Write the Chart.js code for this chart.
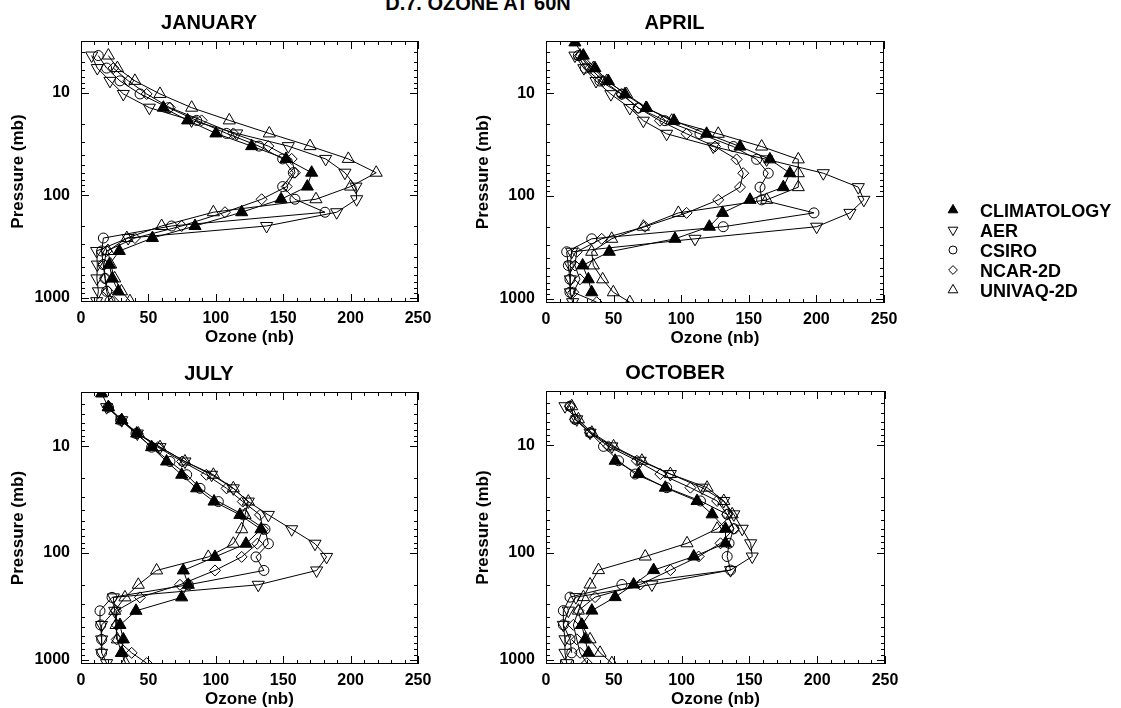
<!DOCTYPE html>
<html>
<head>
<meta charset="utf-8">
<script src="https://cdn.jsdelivr.net/npm/chart.js@4.4.1/dist/chart.umd.min.js"></script>
<style>
  html, body { margin: 0; padding: 0; background: #fff; }
  #page { position: relative; width: 1121px; height: 708px; overflow: hidden; background: #fff; }
  #page canvas { position: absolute; }
  #heading { position: absolute; left: 0; top: -7px; width: 956px; text-align: center;
             font: bold 20px/20px 'Liberation Sans', Arial, sans-serif; color: #000; }
</style>
</head>
<body>
<div id="page">
  <div id="heading">D.7. OZONE AT 60N</div>
  <canvas id="jan" width="499" height="352" style="left:0;top:0"></canvas>
  <canvas id="apr" width="500" height="353" style="left:465px;top:0"></canvas>
  <canvas id="jul" width="499" height="363" style="left:0;top:351px"></canvas>
  <canvas id="oct" width="501" height="364" style="left:465px;top:350px"></canvas>
  <canvas id="key" width="191" height="110" style="left:930px;top:195px"></canvas>
</div>
<script>
// model levels (mb), surface upward
const pressure = [1080, 865, 647, 474, 349, 261, 199, 146, 109, 82, 60, 44, 33, 24.8, 18.5, 13.9, 10.2, 7.6, 5.7, 4.3, 3.2]

const months = ['JANUARY', 'APRIL', 'JULY', 'OCTOBER']
const modelNames = ['CLIMATOLOGY', 'AER', 'CSIRO', 'NCAR-2D', 'UNIVAQ-2D']

const ozoneTicks = [0, 50, 100, 150, 200, 250]
const pressureTicks = [10, 100, 1000]

// ozone (nb) per level, null = no value at that level
const janClim   = [null, 27.7, 23.2, 21.0, 28.4, 53.0, 84.6, 119.2, 148.4, 167.9, 171.1, 152.1, 126.6, 100.1, 79.1, 61.1, null, null, null, null, null]
const janAer    = [11.6, 12.9, 11.8, 12.1, 11.6, 35.0, 137.7, 189.7, 204.5, 204.0, 195.8, 181.5, 153.8, 115.5, 82.0, 50.7, 31.4, 21.5, 12.1, 7.9, null]
const janCsiro  = [21.5, 19.0, 17.8, 16.5, 15.3, 16.6, 67.2, 181.0, 158.7, 149.6, 157.5, 149.6, 132.0, 108.0, 85.8, 64.8, 43.8, 28.9, 19.0, 12.8, null]
const janNcar   = [24.0, 20.0, 18.0, 17.0, 19.0, 40.0, 74.7, 106.8, 134.0, 152.6, 158.7, 156.3, 139.0, 113.0, 89.5, 66.0, 48.7, 35.1, 24.0, null, null]
const janUnivaq = [36.3, 30.0, 25.0, 22.0, 20.0, 34.0, 59.8, 98.2, 174.3, 200.0, 219.0, 198.3, 169.9, 139.7, 110.0, 82.1, 58.6, 40.0, 27.0, 20.3, null]

const aprClim   = [null, 33.8, 31.3, 27.1, 46.8, 95.4, 120.8, 130.6, 150.9, 175.5, 180.4, 165.6, 143.5, 118.8, 94.7, 74.0, 58.4, 46.1, 36.2, 27.6, 21.4]
const aprAer    = [19.7, 18.0, 18.0, 18.0, 19.0, 110.2, 200.2, 224.8, 235.1, 231.0, 205.1, 163.2, 123.7, 89.2, 72.0, 62.0, 48.0, 37.0, 28.0, 21.4, null]
const aprCsiro  = [null, 17.7, 17.7, 16.5, 15.3, 33.8, 131.1, 198.2, 159.5, 158.3, 164.4, 155.8, 138.5, 113.9, 88.0, 68.3, 56.0, 39.9, 29.0, 23.9, null]
const aprNcar   = [37.5, 20.2, 25.1, 21.4, 22.7, 41.2, 73.2, 104.0, 127.4, 143.5, 145.9, 141.0, 125.0, 104.0, 84.3, 68.3, 56.0, 42.4, 32.5, 25.1, null]
const aprUnivaq = [62.0, 49.8, 41.9, 35.0, 33.8, 48.6, 72.0, 97.9, 163.2, 186.6, 186.6, 186.6, 159.5, 127.4, 93.0, 74.4, 59.6, 44.9, 35.0, 25.1, null]

const julClim   = [null, 30.2, 31.4, 28.9, 40.8, 74.7, 79.6, 75.9, 99.4, 122.4, 133.5, 117.9, 98.7, 85.8, 74.7, 63.5, 52.4, 41.3, 30.2, 20.3, 15.3]
const julAer    = [19.0, 15.3, 15.3, 15.3, 25.0, 24.0, 131.5, 174.8, 182.2, 173.6, 156.3, 139.0, 124.1, 113.0, 96.9, 77.1, 58.6, 41.8, 30.2, 19.0, null]
const julCsiro  = [null, 15.3, 15.3, 14.6, 14.1, 23.0, 79.6, 135.7, 129.8, 139.0, 136.5, 120.4, 101.9, 88.3, 78.4, 66.0, 52.4, 40.8, 29.4, 20.3, null]
const julNcar   = [48.7, 37.6, 26.5, 26.5, 26.0, 43.7, 73.4, 99.4, 119.2, 130.8, 135.0, 132.8, 120.0, 108.0, 93.0, 75.0, 57.0, 42.0, 30.0, 20.0, null]
const julUnivaq = [33.0, 30.0, 27.0, 26.0, 25.0, 32.6, 42.5, 56.1, 94.4, 113.0, 119.2, 121.7, 124.1, 113.0, 98.2, 77.1, 58.6, 42.5, 30.2, 20.3, null]

const octClim   = [null, 31.3, 28.8, 26.4, 33.8, 51.0, 64.6, 79.4, 109.0, 132.4, 132.4, 122.5, 111.4, 88.0, 68.3, 51.0, null, null, null, null, null]
const octAer    = [15.3, 14.0, 14.0, 12.8, 16.5, 22.0, 78.1, 136.1, 152.1, 150.9, 144.7, 138.5, 131.1, 115.1, 91.7, 69.5, 48.6, 32.5, 22.7, 14.0, null]
const octCsiro  = [null, 19.0, 17.7, 12.8, 12.8, 17.7, 56.0, 136.1, 133.6, 135.0, 138.5, 133.6, 113.9, 89.0, 65.8, 53.5, 42.4, 32.5, 21.4, 17.7, null]
const octNcar   = [30.1, 25.1, 22.7, 20.2, 23.9, 36.2, 69.5, 91.7, 112.6, 128.7, 138.5, 133.6, 126.2, 106.5, 84.3, 67.0, 46.1, 32.5, 21.4, 17.7, null]
const octUnivaq = [48.6, 39.9, 32.5, 26.4, 23.9, 27.6, 32.5, 38.7, 73.2, 104.0, 126.2, 137.3, 131.1, 118.8, 91.7, 70.7, 49.8, 33.8, 23.9, 19.0, null]

const FONT = "'Liberation Sans', Arial, Helvetica, sans-serif"
Chart.defaults.font.family = FONT
Chart.defaults.color = '#000'

// one symbol per model: filled up-triangle, down-triangle, circle, diamond, up-triangle
const symbols = [
    { pointStyle: 'triangle', rotation: 0,   radius: 7,   fill: '#000' },
    { pointStyle: 'triangle', rotation: 180, radius: 7,   fill: 'rgba(0,0,0,0)' },
    { pointStyle: 'circle',   rotation: 0,   radius: 5,   fill: 'rgba(0,0,0,0)' },
    { pointStyle: 'rectRot',  rotation: 0,   radius: 5.5, fill: 'rgba(0,0,0,0)' },
    { pointStyle: 'triangle', rotation: 0,   radius: 7,   fill: 'rgba(0,0,0,0)' }
]

const toPoints = (values) => values
    .map((v, k) => v === null ? null : { x: v, y: pressure[k] })
    .filter(Boolean)

const makeDatasets = (series) => series.map((values, i) => ({
    label: modelNames[i],
    data: toPoints(values),
    showLine: true,
    borderColor: '#000',
    borderWidth: 1,
    pointStyle: symbols[i].pointStyle,
    pointRotation: symbols[i].rotation,
    pointRadius: symbols[i].radius,
    pointBackgroundColor: symbols[i].fill,
    pointBorderColor: '#000',
    pointBorderWidth: 1
}))

// box round the plot with inward ticks on all four sides
const frameTicks = {
    id: 'frameTicks',
    afterDatasetsDraw(chart) {
        const { ctx, chartArea: a, scales: { x, y } } = chart
        ctx.save()
        ctx.strokeStyle = '#000'
        ctx.lineWidth = 1
        ctx.strokeRect(a.left + 0.5, a.top + 0.5, a.right - a.left - 1, a.bottom - a.top - 1)
        ctx.beginPath()
        for (let v = x.min; v <= x.max; v += 10) {
            const px = Math.round(x.getPixelForValue(v)) + 0.5
            const len = ozoneTicks.includes(v) ? 8 : 4
            ctx.moveTo(px, a.bottom); ctx.lineTo(px, a.bottom - len)
            ctx.moveTo(px, a.top); ctx.lineTo(px, a.top + len)
        }
        for (let dec = 1; dec <= 1000; dec *= 10) {
            for (let m = 1; m < 10; m++) {
                const v = dec * m
                if (v < y.min || v > y.max) continue
                const py = Math.round(y.getPixelForValue(v)) + 0.5
                const len = m === 1 ? 8 : 4
                ctx.moveTo(a.left, py); ctx.lineTo(a.left + len, py)
                ctx.moveTo(a.right, py); ctx.lineTo(a.right - len, py)
            }
        }
        ctx.stroke()
        ctx.restore()
    }
}

function drawPanel (id, title, series) {
    new Chart(document.getElementById(id), {
        type: 'scatter',
        data: { datasets: makeDatasets(series) },
        options: {
            responsive: false,
            animation: false,
            devicePixelRatio: 1,
            events: [],
            layout: { padding: { left: 0, top: 0, right: 81, bottom: 0 } },
            plugins: {
                legend: { display: false },
                tooltip: { enabled: false },
                title: {
                    display: true,
                    text: title,
                    color: '#000',
                    font: { size: 20, weight: 'bold' },
                    padding: { top: 11, bottom: 6 }
                }
            },
            scales: {
                x: {
                    type: 'linear',
                    min: 0,
                    max: 250,
                    grid: { display: false, drawTicks: false },
                    border: { display: false },
                    afterBuildTicks: (s) => { s.ticks = ozoneTicks.map(v => ({ value: v })) },
                    afterFit: (s) => { s.height = 50 },
                    ticks: { font: { size: 16, weight: 'bold' }, padding: 7, maxRotation: 0 },
                    title: { display: true, text: 'Ozone (nb)', font: { size: 17, weight: 'bold' }, padding: { top: 0, bottom: 4 } }
                },
                y: {
                    type: 'logarithmic',
                    reverse: true,
                    min: 3.1,
                    max: 1100,
                    grid: { display: false, drawTicks: false },
                    border: { display: false },
                    afterBuildTicks: (s) => { s.ticks = pressureTicks.map(v => ({ value: v })) },
                    afterFit: (s) => { s.width = 81 },
                    ticks: { font: { size: 16, weight: 'bold' }, padding: 11, callback: (v) => String(v) },
                    title: { display: true, text: 'Pressure (mb)', font: { size: 17, weight: 'bold' }, padding: { top: 8, bottom: 0 } }
                }
            }
        },
        plugins: [frameTicks]
    })
}

drawPanel('jan', months[0], [janClim, janAer, janCsiro, janNcar, janUnivaq])
drawPanel('apr', months[1], [aprClim, aprAer, aprCsiro, aprNcar, aprUnivaq])
drawPanel('jul', months[2], [julClim, julAer, julCsiro, julNcar, julUnivaq])
drawPanel('oct', months[3], [octClim, octAer, octCsiro, octNcar, octUnivaq])

// model key: symbol then name, one per row
const sideLegend = {
    id: 'sideLegend',
    afterDraw(chart) {
        const ctx = chart.ctx
        ctx.save()
        ctx.font = 'bold 18px ' + FONT
        ctx.textBaseline = 'alphabetic'
        chart.data.datasets.forEach((ds, i) => {
            const y = 15 + i * 20
            ctx.fillStyle = ds.pointBackgroundColor
            ctx.strokeStyle = '#000'
            ctx.lineWidth = 1
            Chart.helpers.drawPoint(ctx, {
                pointStyle: ds.pointStyle,
                rotation: ds.pointRotation,
                radius: ds.pointRadius * 0.8,
                borderWidth: 1
            }, 23, y)
            ctx.fillStyle = '#000'
            ctx.fillText(ds.label, 50, y + 6.5)
        })
        ctx.restore()
    }
}

new Chart(document.getElementById('key'), {
    type: 'scatter',
    data: { datasets: makeDatasets([[], [], [], [], []]) },
    options: {
        responsive: false,
        animation: false,
        devicePixelRatio: 1,
        events: [],
        plugins: { legend: { display: false }, tooltip: { enabled: false } },
        scales: { x: { display: false }, y: { display: false } }
    },
    plugins: [sideLegend]
})
</script>
</body>
</html>
